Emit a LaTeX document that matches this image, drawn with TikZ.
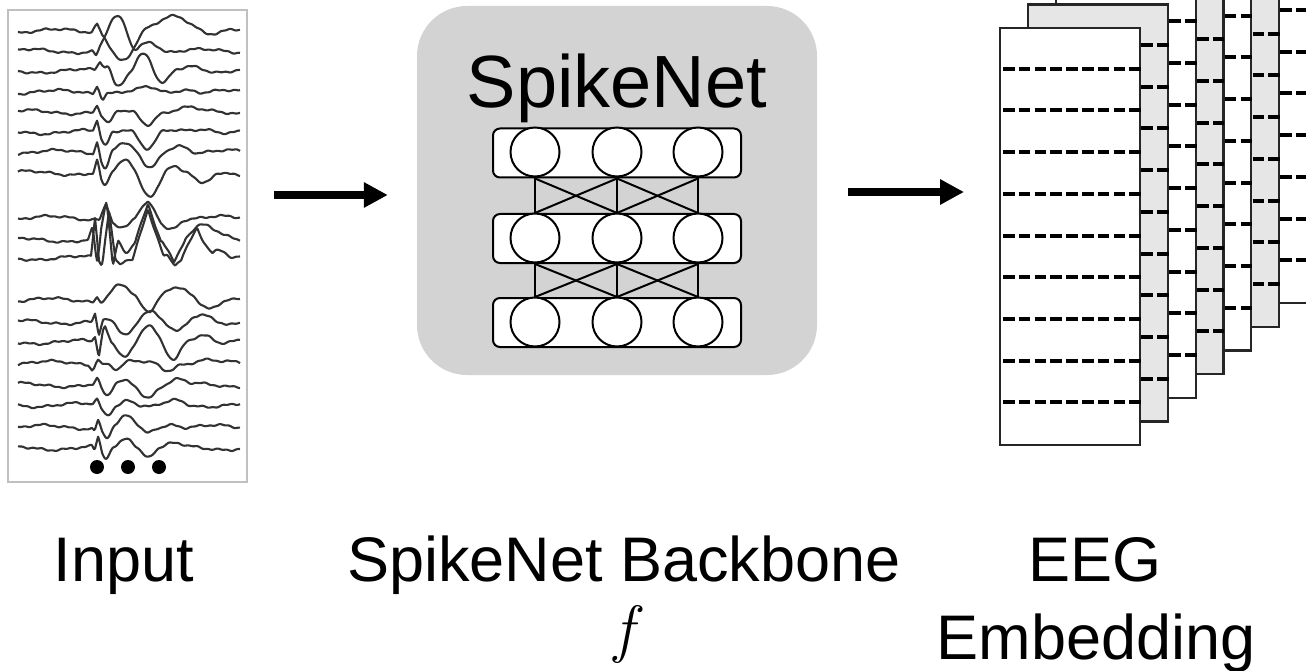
\documentclass[tikz,border=0pt]{standalone}
\usepackage{fontspec}
\newfontfamily\arial{Liberation Sans}
\usetikzlibrary{arrows.meta}

\definecolor{boxgray}{RGB}{211,211,211}
\definecolor{pagegray}{RGB}{230,230,230}
\definecolor{framegray}{RGB}{192,192,192}
\definecolor{ink}{RGB}{50,50,50}

% one EEG channel: baseline, noise phase, sum of spike/wave bumps
\newcommand\eegtrace[3]{%
  \draw[trace] plot[domain=18:240,samples=220] (\x,{#1+nz(\x,#2)+1.25*(#3)});}

\begin{document}
\begin{tikzpicture}[x=1pt,y=-1pt,
  declare function={
    tr(\qa,\qb,\qc)=max(0,1-abs(\qa-\qb)/(1.3*\qc));
    cb(\qa,\qb,\qc)=0.5*(1+cos(180*max(-1,min(1,(\qa-\qb)/(1.4*\qc)))));
    nz(\qa,\qd)=0.8*sin(14*\qa+\qd)+0.45*sin(37*\qa+2*\qd)+2.0*sin(4.2*\qa+3*\qd);
  },
  trace/.style={ink, line width=2.1pt, line join=round},
  inputbox/.style={draw=framegray, line width=2pt, fill=white, inner sep=0pt},
  netbox/.style={fill=boxgray, rounded corners=50pt, inner sep=0pt},
  layer/.style={draw=black, line width=2pt, fill=white, rounded corners=7pt,
    minimum width=248pt, minimum height=49pt, inner sep=0pt},
  neuron/.style={circle, draw=black, line width=2pt, fill=white,
    minimum size=49pt, inner sep=0pt},
  link/.style={black, line width=2pt},
  bigarrow/.style={line width=8.5pt, -{Triangle[length=24pt,width=24pt]}},
  page/.style={draw=black!85, line width=2.2pt, anchor=north west,
    minimum width=140pt, minimum height=417pt, inner sep=0pt},
  slot/.style={black, line width=4pt, dash pattern=on 11.5pt off 4.3pt},
  lbl/.style={font=\arial\fontsize{63}{70}\selectfont, inner sep=0pt, anchor=base},
  title/.style={font=\arial\fontsize{74}{80}\selectfont, inner sep=0pt, anchor=base},
]
\useasboundingbox (0,0) rectangle (1306,671);

% ---------------- input EEG ----------------
\node[inputbox, minimum width=239pt, minimum height=472pt] (input) at (127.5,246) {};

\eegtrace{31}{10}{-7*tr(\x,97,4)+24*cb(\x,123,18)-13*cb(\x,175,24)+3*cb(\x,215,14)}
\eegtrace{51}{47}{4*tr(\x,96,3)-26*cb(\x,117,16)-8*cb(\x,150,14)+3*cb(\x,132,6)}
\eegtrace{71}{95}{-7*tr(\x,100,4)-5*cb(\x,108,6)+11*cb(\x,118,9)-14*cb(\x,143,11)+11*cb(\x,163,10)-4*cb(\x,195,16)}
\eegtrace{92}{130}{-6*tr(\x,97,3)+4*tr(\x,103,3)-3*cb(\x,148,12)-3*cb(\x,185,14)}
\eegtrace{112}{170}{-5*tr(\x,97,3)+10*cb(\x,108,8)+9*cb(\x,147,11)-3*cb(\x,185,18)}
\eegtrace{132}{210}{-9*tr(\x,97,3)+11*cb(\x,105,6)-3*cb(\x,125,12)+13*cb(\x,148,12)-3*cb(\x,205,18)}
\eegtrace{152}{250}{-10*tr(\x,97,3)+12*cb(\x,105,6)-7*cb(\x,122,12)+14*cb(\x,150,12)-6*cb(\x,180,14)}
\eegtrace{173}{290}{-10*tr(\x,97,3)+11*cb(\x,105,6)-9*cb(\x,125,11)+18*cb(\x,150,12)-6*cb(\x,172,10)+10*cb(\x,203,12)}

\eegtrace{218}{20}{-13*tr(\x,106,5)+9*cb(\x,122,12)-12*tr(\x,148,10)+8*cb(\x,170,12)}
\eegtrace{240}{60}{-8*tr(\x,92,3)+18*tr(\x,97,3)-30*tr(\x,106,5)+22*tr(\x,113,4)+10*cb(\x,126,8)-30*tr(\x,148,10)+18*tr(\x,174,9)-12*cb(\x,205,16)-5*cb(\x,228,12)}
\eegtrace{258}{100}{-32*tr(\x,95,3)+5*tr(\x,101,3)-38*tr(\x,109,5)+4*tr(\x,120,4)-38*tr(\x,148,12)+7*tr(\x,175,6)-25*tr(\x,197,12)-7*cb(\x,218,12)}

\eegtrace{300}{140}{-4*tr(\x,97,3)-12*cb(\x,120,14)+10*cb(\x,148,10)-12*cb(\x,177,18)+8*cb(\x,212,14)}
\eegtrace{322}{180}{-6*tr(\x,95,2.5)+11*tr(\x,99,3)+10*cb(\x,125,12)-11*cb(\x,150,12)+7*cb(\x,178,12)-5*cb(\x,203,12)}
\eegtrace{342}{220}{-4*tr(\x,95,2.5)+12*tr(\x,99,3)-13*tr(\x,105,5)+10*cb(\x,125,10)-13*cb(\x,148,11)+15*cb(\x,173,11)-7*cb(\x,203,14)}
\eegtrace{363}{260}{4*tr(\x,92,3)-4*tr(\x,98,3)+5*cb(\x,117,8)+5*cb(\x,167,11)-2*cb(\x,203,14)}
\eegtrace{385}{300}{-4*tr(\x,97,3)+10*cb(\x,107,7)-3*cb(\x,125,9)+9*cb(\x,148,11)-4*cb(\x,177,12)}
\eegtrace{405}{340}{-4*tr(\x,97,3)+7*cb(\x,107,7)-5*cb(\x,128,10)+2*cb(\x,150,10)-3*cb(\x,177,12)}
\eegtrace{427}{30}{3*tr(\x,95,2.5)-7*tr(\x,98,3)+8*cb(\x,107,6)-8*cb(\x,127,10)+5*cb(\x,147,8)-3*cb(\x,172,12)}
\eegtrace{448}{75}{4*tr(\x,95,2.5)-8*tr(\x,98,3)+9*cb(\x,106,6)-9*cb(\x,127,10)+6*cb(\x,148,8)-3*cb(\x,174,12)}

\foreach \px in {97,128,159}
  \fill (\px,467) circle (7pt);

% ---------------- SpikeNet backbone ----------------
\node[netbox, minimum width=400pt, minimum height=369pt] (net) at (617,190.5) {};
\node[title] (nettitle) at (617,108) {SpikeNet};

\node[layer] (L1) at (617,153) {};
\node[layer] (L2) at (617,238.5) {};
\node[layer] (L3) at (617,322.5) {};

\foreach \r/\yy in {1/152,2/238,3/322}{
  \node[neuron] (n\r a) at (535,\yy) {};
  \node[neuron] (n\r b) at (617,\yy) {};
  \node[neuron] (n\r c) at (698,\yy) {};
}

\foreach \u/\d in {1/2,2/3}{
  \draw[link] (L\u.south -| n\u a) -- (L\d.north -| n\d a);
  \draw[link] (L\u.south -| n\u a) -- (L\d.north -| n\d b);
  \draw[link] (L\u.south -| n\u b) -- (L\d.north -| n\d a);
  \draw[link] (L\u.south -| n\u b) -- (L\d.north -| n\d b);
  \draw[link] (L\u.south -| n\u b) -- (L\d.north -| n\d c);
  \draw[link] (L\u.south -| n\u c) -- (L\d.north -| n\d b);
  \draw[link] (L\u.south -| n\u c) -- (L\d.north -| n\d c);
}

% ---------------- EEG embedding stack ----------------
\foreach \k in {6,5,...,0}{
  \pgfmathsetmacro\pl{999+27.8*\k}
  \pgfmathsetmacro\pt{27-23.67*\k}
  \pgfmathtruncatemacro\odd{mod(\k,2)}
  \ifnum\odd=1 \def\pfill{pagegray}\else\def\pfill{white}\fi
  \node[page, fill=\pfill] (p\k) at (\pl,\pt) {};
  \foreach \j in {1,...,9}
    \draw[slot] ([xshift=4pt,yshift=-41.7*\j]p\k.north west)
             -- ([xshift=2pt,yshift=-41.7*\j]p\k.north east);
}

% ---------------- arrows ----------------
\coordinate (rowA) at (0,195);
\coordinate (rowB) at (0,192);
\draw[bigarrow] ([xshift=26pt]input.east |- rowA) -- ([xshift=-29pt]net.west |- rowA);
\draw[bigarrow] ([xshift=31pt]net.east |- rowB) -- ([xshift=-35pt]p0.west |- rowB);

% ---------------- labels ----------------
\node[lbl] (linput) at (124,581) {Input};
\node[lbl] (lback) at (624,581) {SpikeNet Backbone};
\node[inner sep=0pt, anchor=base, font=\fontsize{64}{70}\selectfont\itshape] (lf) at (624,650) {f};
\node[lbl] (leeg) at (1095,581) {EEG};
\node[lbl] (lemb) at (1096,659) {Embedding};
\end{tikzpicture}
\end{document}
